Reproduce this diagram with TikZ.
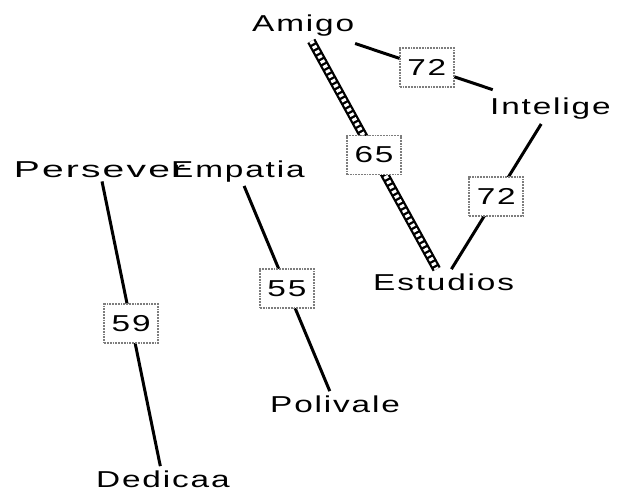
\documentclass[tikz,border=0pt]{standalone}
\usepackage{fontspec}
\setmainfont{Liberation Sans}[FakeStretch=1.45,LetterSpace=8]
\usepackage{xcolor}
\definecolor{speck}{RGB}{125,125,125}
\tikzset{
  word/.style={inner sep=4pt, anchor=base west, font=\fontsize{23}{26}\selectfont},
  wt/.style={draw=speck, densely dotted, line width=1.8pt, fill=white, inner sep=2pt,
    minimum width=54pt, minimum height=39pt, font=\fontsize{23}{26}\selectfont},
  tie/.style={line width=3pt},
  bond/.style={line width=9pt, postaction={draw=white, line width=4.5pt, dash pattern=on 3pt off 2.5pt}}
}

\begin{document}
\begin{tikzpicture}[x=1pt,y=-1pt]
\useasboundingbox (0,0) rectangle (618,500);
\node[word] (Amigo) at (248,32) {Amigo};
\node[word] (Intelige) at (486,115) {Intelige};
\node[word] (Empatia) at (167,177) {Empatia};
\node[word, xscale=1.17, transform shape] (Persever) at (9,177) {Persever};
\node[word] (Estudios) at (369,290) {Estudios};
\node[word] (Polivale) at (266,412) {Polivale};
\node[word] (Dedicaa) at (92,487) {Dedicaa};
\draw[bond] (Amigo) -- node[wt]{65} (Estudios);
\draw[tie, shorten <=8pt, shorten >=14pt] (Amigo) -- node[wt]{72} (Intelige);
\draw[tie] (Intelige) -- node[wt]{72} (Estudios);
\draw[tie] (Persever) -- node[wt]{59} (Dedicaa);
\draw[tie] (Empatia) -- node[wt]{55} (Polivale);
\end{tikzpicture}
\end{document}
